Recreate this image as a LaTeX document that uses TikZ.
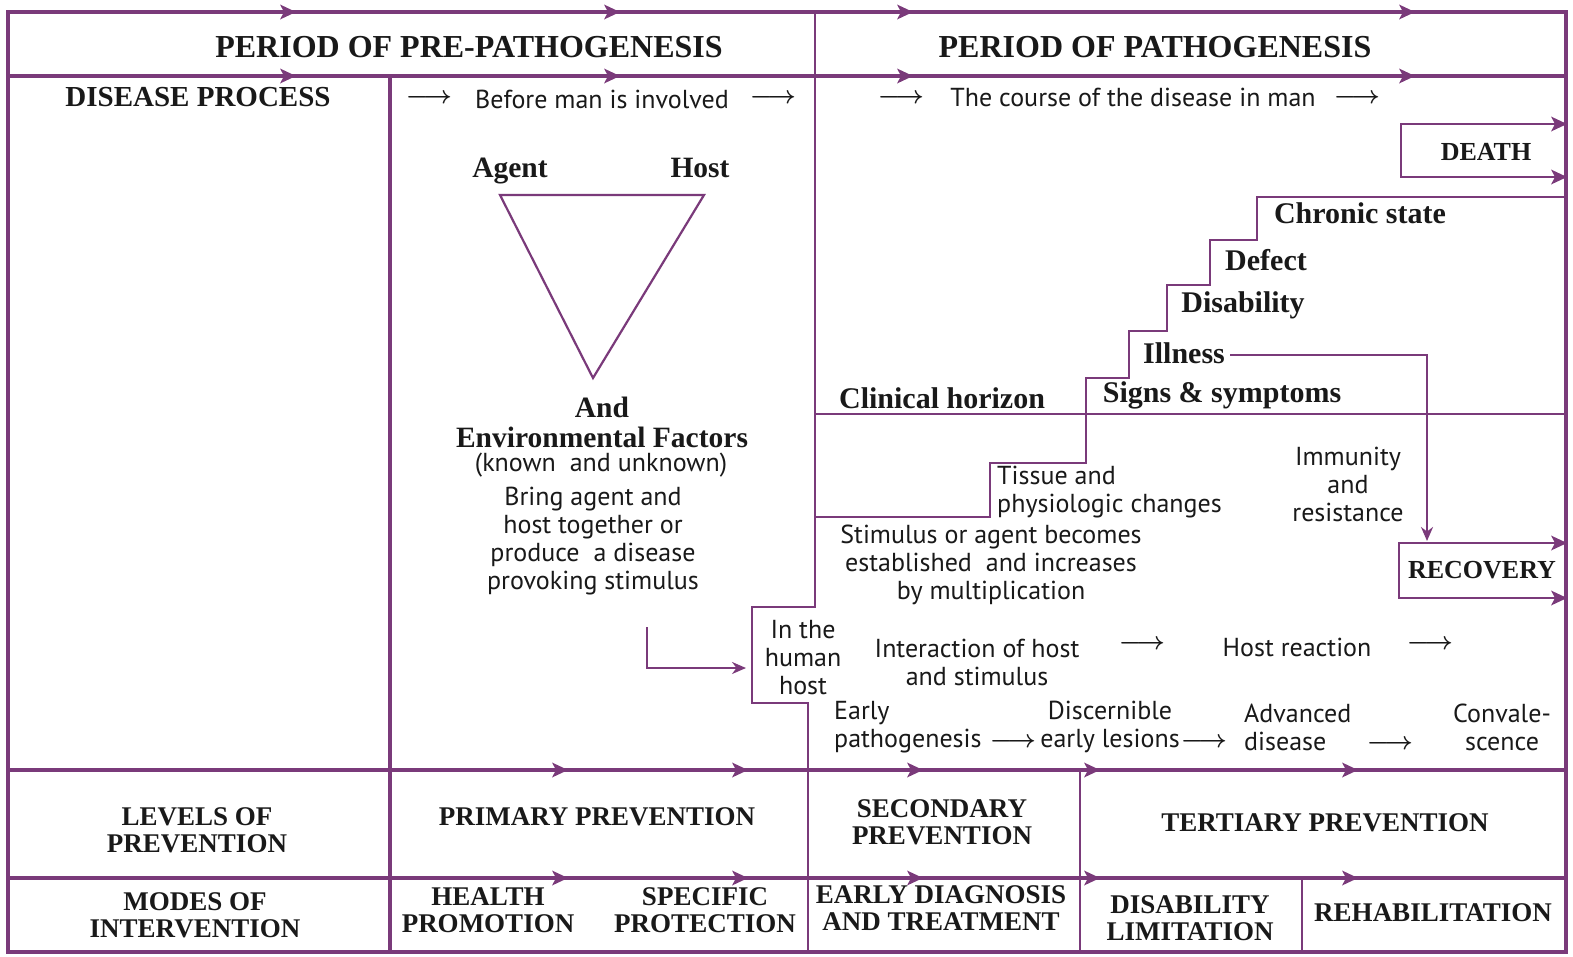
\documentclass[tikz,border=0pt]{standalone}
\usepackage{fontspec}
\setmainfont{Liberation Serif}
\newfontfamily\bodyf{PT Sans}
\usetikzlibrary{arrows.meta}
\definecolor{pl}{RGB}{122,58,122}
\definecolor{ink}{RGB}{25,25,25}
\newcommand\marr[2]{\fill[pl] (#1+3,#2) -- (#1-13,#2-7.5) -- (#1-9,#2) -- (#1-13,#2+7.5) -- cycle;}
\begin{document}
\begin{tikzpicture}[x=1pt,y=-1pt,
  frame/.style={draw=pl,line width=3.4pt,line join=miter},
  inner/.style={draw=pl,line width=2.4pt,line join=miter},
  title/.style={font=\bfseries\fontsize{32}{32}\selectfont,text=ink,inner sep=0pt},
  sub/.style={font=\bfseries\fontsize{29}{29}\selectfont,text=ink,inner sep=0pt},
  bot/.style={font=\bfseries\fontsize{27}{27}\selectfont,text=ink,inner sep=0pt,align=center},
  stair/.style={font=\bfseries\fontsize{30}{30}\selectfont,text=ink,inner sep=0pt},
  tri/.style={font=\bfseries\fontsize{29.5}{29.5}\selectfont,text=ink,inner sep=0pt},
  boxt/.style={font=\bfseries\fontsize{26}{26}\selectfont,text=ink,inner sep=0pt},
  body/.style={font=\bodyf\fontsize{26}{28}\selectfont,text=ink,inner sep=0pt,align=center},
  tarr/.style={font=\boldmath\fontsize{23}{23}\selectfont,text=ink,inner sep=0pt},
  arr/.style={-{Stealth[length=14pt,width=12pt]}},
]
\useasboundingbox (0,0) rectangle (1573,956);
\fill[white] (0,0) rectangle (1573,956);

% ---------- frame ----------
\draw[frame] (8,12) rectangle (1566,952);
\draw[frame] (8,76) -- (1566,76);
\draw[frame] (390,76) -- (390,952);
\draw[frame] (8,770) -- (1566,770);
\draw[frame] (8,878) -- (1566,878);
\draw[inner] (815,12) -- (815,607) -- (752,607) -- (752,703) -- (808,703) -- (808,952);
\draw[inner] (1080,770) -- (1080,952);
\draw[inner] (1302,878) -- (1302,952);
\foreach \x in {293,617,910,1412} {\marr{\x}{12}\marr{\x}{76}}
\foreach \x in {565,745,920,1097,1355} {\marr{\x}{770}\marr{\x}{878}}

% clinical horizon and staircase
\draw[inner] (815,414) -- (1566,414);
\draw[inner] (1566,197) -- (1257,197) -- (1257,240) -- (1210,240) -- (1210,285)
  -- (1167,285) -- (1167,331) -- (1129,331) -- (1129,378) -- (1086,378)
  -- (1086,463) -- (990,463) -- (990,517) -- (815,517);

% death box
\draw[inner] (1566,124) -- (1401,124) -- (1401,177) -- (1566,177);
\marr{1564}{124}\marr{1564}{177}
% recovery box
\draw[inner] (1566,543) -- (1399,543) -- (1399,598) -- (1566,598);
\marr{1564}{543}\marr{1564}{598}

% triangle
\draw[inner,line width=2.2pt] (500,195) -- (704,195) -- (593,378) -- cycle;

% ---------- texts ----------
\node[title] (pre) at (469,47) {PERIOD OF PRE-PATHOGENESIS};
\node[title] (pat) at (1155,47) {PERIOD OF PATHOGENESIS};
\node[sub] (dp) at (198,97) {DISEASE PROCESS};

\node[tarr] (ba1) at (429,99) {$\longrightarrow$};
\node[body] (bm) at (602,99) {Before man is involved};
\node[tarr] (ba2) at (773,99) {$\longrightarrow$};

\node[tarr] (ca1) at (901,99) {$\longrightarrow$};
\node[body] (cm) at (1133,97) {The course of the disease in man};
\node[tarr] (ca2) at (1357,99) {$\longrightarrow$};

\node[tri,anchor=base] (ag) at (510,177) {Agent};
\node[tri,anchor=base] (ho) at (700,177) {Host};
\node[tri] (and) at (602,407) {And};
\node[tri] (env) at (602,437) {Environmental Factors};
\node[body] (kn) at (601,465) {(known\ \ and unknown)};
\node[body] (br) at (593,541)
  {Bring agent and\\host together or\\produce\ \ a disease\\provoking stimulus};

\node[boxt] (death) at (1486,152) {DEATH};
\node[boxt] (rec) at (1482,570) {RECOVERY};

\node[stair] (chr) at (1360,213) {Chronic state};
\node[stair] (def) at (1266,260) {Defect};
\node[stair] (dis) at (1243,305) {Disability};
\node[stair] (ill) at (1184,353) {Illness};
\node[stair] (sig) at (1222,395) {Signs \& symptoms};
\node[stair] (cli) at (942,398) {Clinical horizon};

\node[body] (imm) at (1348,484) {Immunity\\and\\resistance};
\node[body,align=left,anchor=west] (tis) at (997,492) {Tissue and\\physiologic changes};
\node[body] (stim) at (991,565) {Stimulus or agent becomes\\established\ \ and increases\\by multiplication};
\node[body] (hum) at (803,658) {In the\\human\\host};
\node[body] (int) at (977,662) {Interaction of host\\and stimulus};
\node[tarr] (ia1) at (1142,645) {$\longrightarrow$};
\node[body] (hr) at (1297,647) {Host reaction};
\node[tarr] (ia2) at (1430,645) {$\longrightarrow$};

\node[body,align=left,anchor=west] (ep) at (834,727) {Early\\pathogenesis};
\node[tarr] (ea1) at (1013,743) {$\longrightarrow$};
\node[body] (del) at (1110,727) {Discernible\\early lesions};
\node[tarr] (ea2) at (1204,743) {$\longrightarrow$};
\node[body,align=left,anchor=west] (adv) at (1244,727) {Advanced\\disease};
\node[tarr] (ea3) at (1390,745) {$\longrightarrow$};
\node[body] (con) at (1502,727) {Convale-\\scence};

\node[bot] (lev) at (197,830) {LEVELS OF\\PREVENTION};
\node[bot] (pp) at (597,817) {PRIMARY PREVENTION};
\node[bot] (sp) at (942,822) {SECONDARY\\PREVENTION};
\node[bot] (tp) at (1325,823) {TERTIARY PREVENTION};
\node[bot] (mod) at (195,915) {MODES OF\\INTERVENTION};
\node[bot] (hp) at (488,910) {HEALTH\\PROMOTION};
\node[bot] (spc) at (705,910) {SPECIFIC\\PROTECTION};
\node[bot] (edt) at (941,908) {EARLY DIAGNOSIS\\AND TREATMENT};
\node[bot] (dl) at (1190,918) {DISABILITY\\LIMITATION};
\node[bot] (reh) at (1433,913) {REHABILITATION};

% ---------- connectors ----------
\coordinate (s0) at (647,627);
\coordinate (s1) at (647,668);
\coordinate (hh) at (746,668);
\draw[inner,line width=2.2pt,arr] (s0) -- (s1) -- (hh);
\coordinate (i0) at (1230,355);
\coordinate (i1) at (1427,355);
\coordinate (rt) at (1427,541);
\draw[inner,line width=2.2pt,arr] (i0) -- (i1) -- (rt);
\end{tikzpicture}
\end{document}
